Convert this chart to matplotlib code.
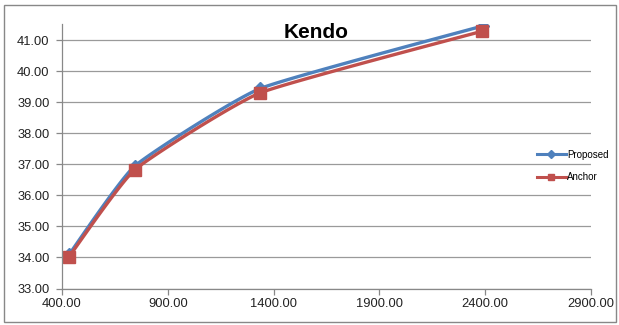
import numpy as np
import matplotlib
matplotlib.use("Agg")
import matplotlib.pyplot as plt
from matplotlib.patches import Rectangle

plt.rcParams['font.family'] = ['Liberation Sans', 'DejaVu Sans']

# Rate (kbps) vs PSNR (dB) for the Kendo sequence
proposed_rate = [434, 744, 1337, 2390]
proposed_psnr = [34.10, 36.95, 39.45, 41.47]
anchor_rate = [434, 744, 1337, 2387]
anchor_psnr = [34.03, 36.83, 39.31, 41.30]

x_ticks = [400, 900, 1400, 1900, 2400, 2900]
y_ticks = [33, 34, 35, 36, 37, 38, 39, 40, 41]

BLUE = '#4F81BD'
RED = '#C0504D'


def smooth(xs, ys, tension=0.22, n=40):
    # cubic Hermite curve through the points, a softened "smoothed line"
    p = np.column_stack([xs, ys]).astype(float)
    m = np.zeros_like(p)
    m[1:-1] = tension * (p[2:] - p[:-2])
    m[0] = tension * (p[1] - p[0])
    m[-1] = tension * (p[-1] - p[-2])
    t = np.linspace(0, 1, n)[:, None]
    h00 = 2 * t ** 3 - 3 * t ** 2 + 1
    h10 = t ** 3 - 2 * t ** 2 + t
    h01 = -2 * t ** 3 + 3 * t ** 2
    h11 = t ** 3 - t ** 2
    out = []
    for i in range(len(p) - 1):
        seg = h00 * p[i] + h10 * m[i] + h01 * p[i + 1] + h11 * m[i + 1]
        out.append(seg if i == 0 else seg[1:])
    out = np.vstack(out)
    return out[:, 0], out[:, 1]


fig = plt.figure(figsize=(6.19, 3.25), dpi=100)
ax = fig.add_axes([62 / 619, 36.5 / 325, 529 / 619, 264.5 / 325])

# outer chart border
fig.patches.append(Rectangle((4 / 619, 3 / 325), 612 / 619, 317 / 325, transform=fig.transFigure,
                             fill=False, edgecolor='#888888', linewidth=1.0))

for xs, ys, col, mk, ms, lab in [(proposed_rate, proposed_psnr, BLUE, 'D', 6.5, 'Proposed'),
                                  (anchor_rate, anchor_psnr, RED, 's', 8, 'Anchor')]:
    sx, sy = smooth(xs, ys)
    ax.plot(sx, sy, color=col, linewidth=2.4, solid_capstyle='round')
    ax.plot(xs, ys, linestyle='none', marker=mk, markersize=ms, color=col)
    ax.plot([], [], color=col, linewidth=2.2, marker=mk, markersize=4, label=lab)

ax.set_xlim(400, 2900)
ax.set_ylim(33, 41.53)
ax.set_xticks(x_ticks)
ax.set_yticks(y_ticks)
ax.set_xticklabels([f'{v:.2f}' for v in x_ticks])
ax.set_yticklabels([f'{v:.2f}' for v in y_ticks])
ax.tick_params(axis='both', labelsize=9.3, colors='#888888', labelcolor='#222222', length=4, width=0.9)
ax.tick_params(axis='x', pad=3)
ax.tick_params(axis='y', pad=5)

ax.grid(axis='y', color='#9a9a9a', linewidth=0.9)
ax.set_axisbelow(True)
for side in ['top', 'right']:
    ax.spines[side].set_visible(False)
for side in ['left', 'bottom']:
    ax.spines[side].set_color('#888888')
    ax.spines[side].set_linewidth(0.9)

fig.text(316 / 619, 1 - 33 / 325, 'Kendo', ha='center', va='center', fontsize=15, fontweight='bold')

leg = fig.legend(loc='upper left', bbox_to_anchor=(528 / 619, 1 - 141 / 325), frameon=False,
                 fontsize=7, handlelength=3.0, handletextpad=0.1, labelspacing=1.3)

fig.savefig('out.png', dpi=100)
